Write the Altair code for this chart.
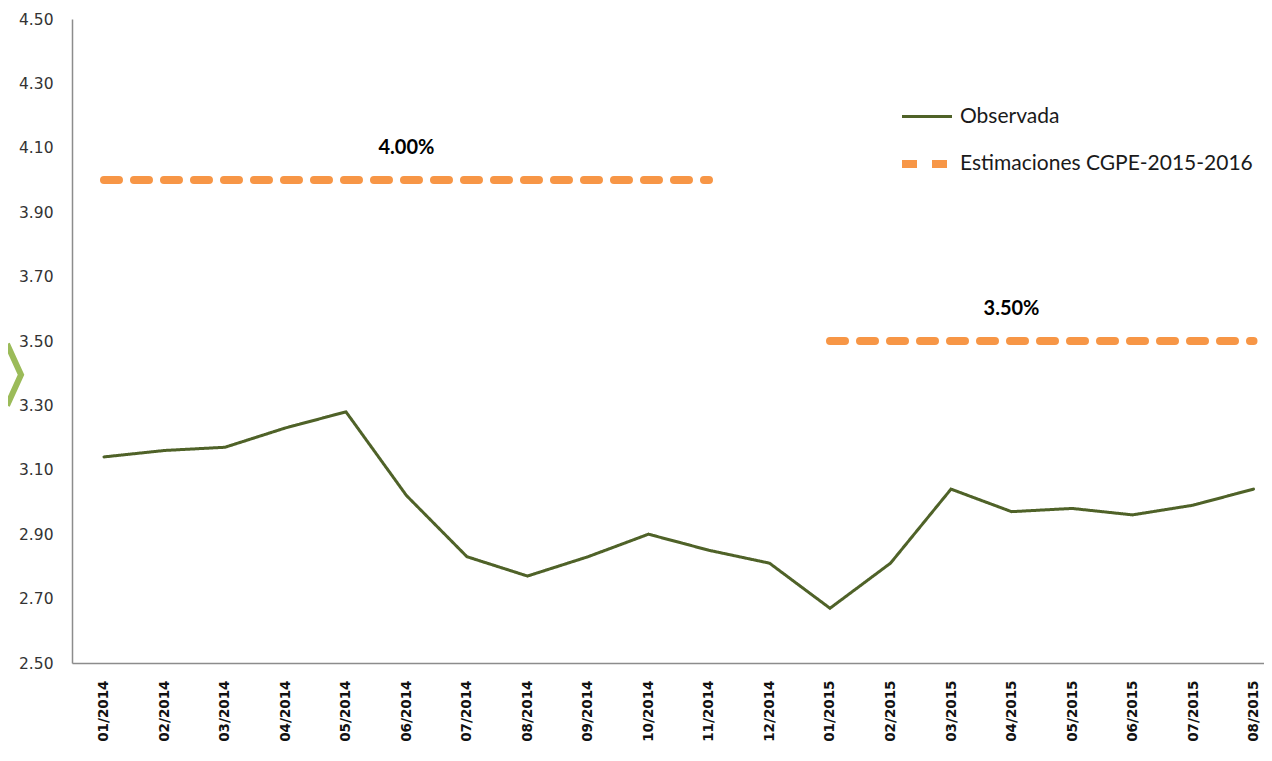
import altair as alt
import pandas as pd

# ---- data ----
months = ["01/2014", "02/2014", "03/2014", "04/2014", "05/2014", "06/2014",
          "07/2014", "08/2014", "09/2014", "10/2014", "11/2014", "12/2014",
          "01/2015", "02/2015", "03/2015", "04/2015", "05/2015", "06/2015",
          "07/2015", "08/2015"]
observada = [3.14, 3.16, 3.17, 3.23, 3.28, 3.02, 2.83, 2.77, 2.83, 2.90,
             2.85, 2.81, 2.67, 2.81, 3.04, 2.97, 2.98, 2.96, 2.99, 3.04]

est_2014_months = months[0:11]
est_2014_values = [4.00] * 11
est_2015_months = months[12:20]
est_2015_values = [3.50] * 8

ann_months = ["06/2014", "04/2015"]
ann_values = [4.00, 3.50]
ann_text = ["4.00%", "3.50%"]

y_ticks = [2.5, 2.7, 2.9, 3.1, 3.3, 3.5, 3.7, 3.9, 4.1, 4.3, 4.5]

OBS = "Observada"
EST = "Estimaciones CGPE-2015-2016"
series_names = [OBS, EST]
series_colors = ["#4F6228", "#F79646"]

rows = []
for m, v in zip(months, observada):
    rows.append({"mes": m, "valor": v, "serie": OBS, "tramo": "obs"})
for m, v in zip(est_2014_months, est_2014_values):
    rows.append({"mes": m, "valor": v, "serie": EST, "tramo": "e2014"})
for m, v in zip(est_2015_months, est_2015_values):
    rows.append({"mes": m, "valor": v, "serie": EST, "tramo": "e2015"})
df = pd.DataFrame(rows)

ann_df = pd.DataFrame({"mes": ann_months, "valor": ann_values, "texto": ann_text})
chev_df = pd.DataFrame({"valor": [3.395]})

x_enc = alt.X(
    "mes:O", sort=months,
    scale=alt.Scale(type="point", padding=0.351, align=0.753),
    axis=alt.Axis(title=None, labelAngle=270, labelFont="DejaVu Sans",
                  labelFontWeight="bold", labelFontSize=13.5, labelColor="#111111",
                  labelPadding=17, ticks=False, domainColor="#8c8c8c",
                  domainWidth=1.5, grid=False),
)
y_scale = alt.Scale(domain=[2.5, 4.5], nice=False, zero=False)
y_enc = alt.Y(
    "valor:Q", scale=y_scale,
    axis=alt.Axis(title=None, values=y_ticks, format=".2f", ticks=False,
                  labelPadding=19, labelFont="DejaVu Sans", labelFontSize=15.5,
                  labelColor="#333333", domainColor="#8c8c8c", domainWidth=1.5,
                  grid=False, labelFlush=False, labelOverlap=False),
)

lines = alt.Chart(df).mark_line(strokeCap="round", strokeJoin="miter").encode(
    x=x_enc,
    y=y_enc,
    color=alt.Color("serie:N", scale=alt.Scale(domain=series_names, range=series_colors), title=None),
    strokeDash=alt.StrokeDash("serie:N", scale=alt.Scale(domain=series_names, range=[[1, 0], [15, 15]]), title=None),
    strokeWidth=alt.StrokeWidth("serie:N", scale=alt.Scale(domain=series_names, range=[3, 8]), title=None),
    detail="tramo:N",
)

labels = alt.Chart(ann_df).mark_text(
    font="Lato", fontWeight="bold", fontSize=20, color="#000000", dy=-32, baseline="middle"
).encode(
    x=alt.X("mes:O", sort=months),
    y=alt.Y("valor:Q", scale=y_scale),
    text="texto:N",
)

chevron = alt.Chart(chev_df).mark_point(
    shape="M-1,-2.2L0,0L-1,2.2", filled=False, stroke="#9BBB59", strokeWidth=6, opacity=1
).encode(
    x=alt.value(-51),
    y=alt.Y("valor:Q", scale=y_scale),
    size=alt.value(784),
)

chart = alt.layer(lines, labels, chevron).properties(
    width=1192, height=644,
    autosize=alt.AutoSizeParams(type="none"),
    padding={"left": 64, "top": 11, "right": 0, "bottom": 90},
    background="white",
).configure_view(stroke=None).configure_legend(
    orient="none", legendX=826, legendY=71, symbolType="stroke", symbolSize=2500,
    labelFont="Lato", labelFontSize=21, labelColor="#1a1a1a", labelOffset=4,
    rowPadding=8, padding=0, labelLimit=400,
)

chart.save("out.html", embed_options={"renderer": "svg", "actions": False})
